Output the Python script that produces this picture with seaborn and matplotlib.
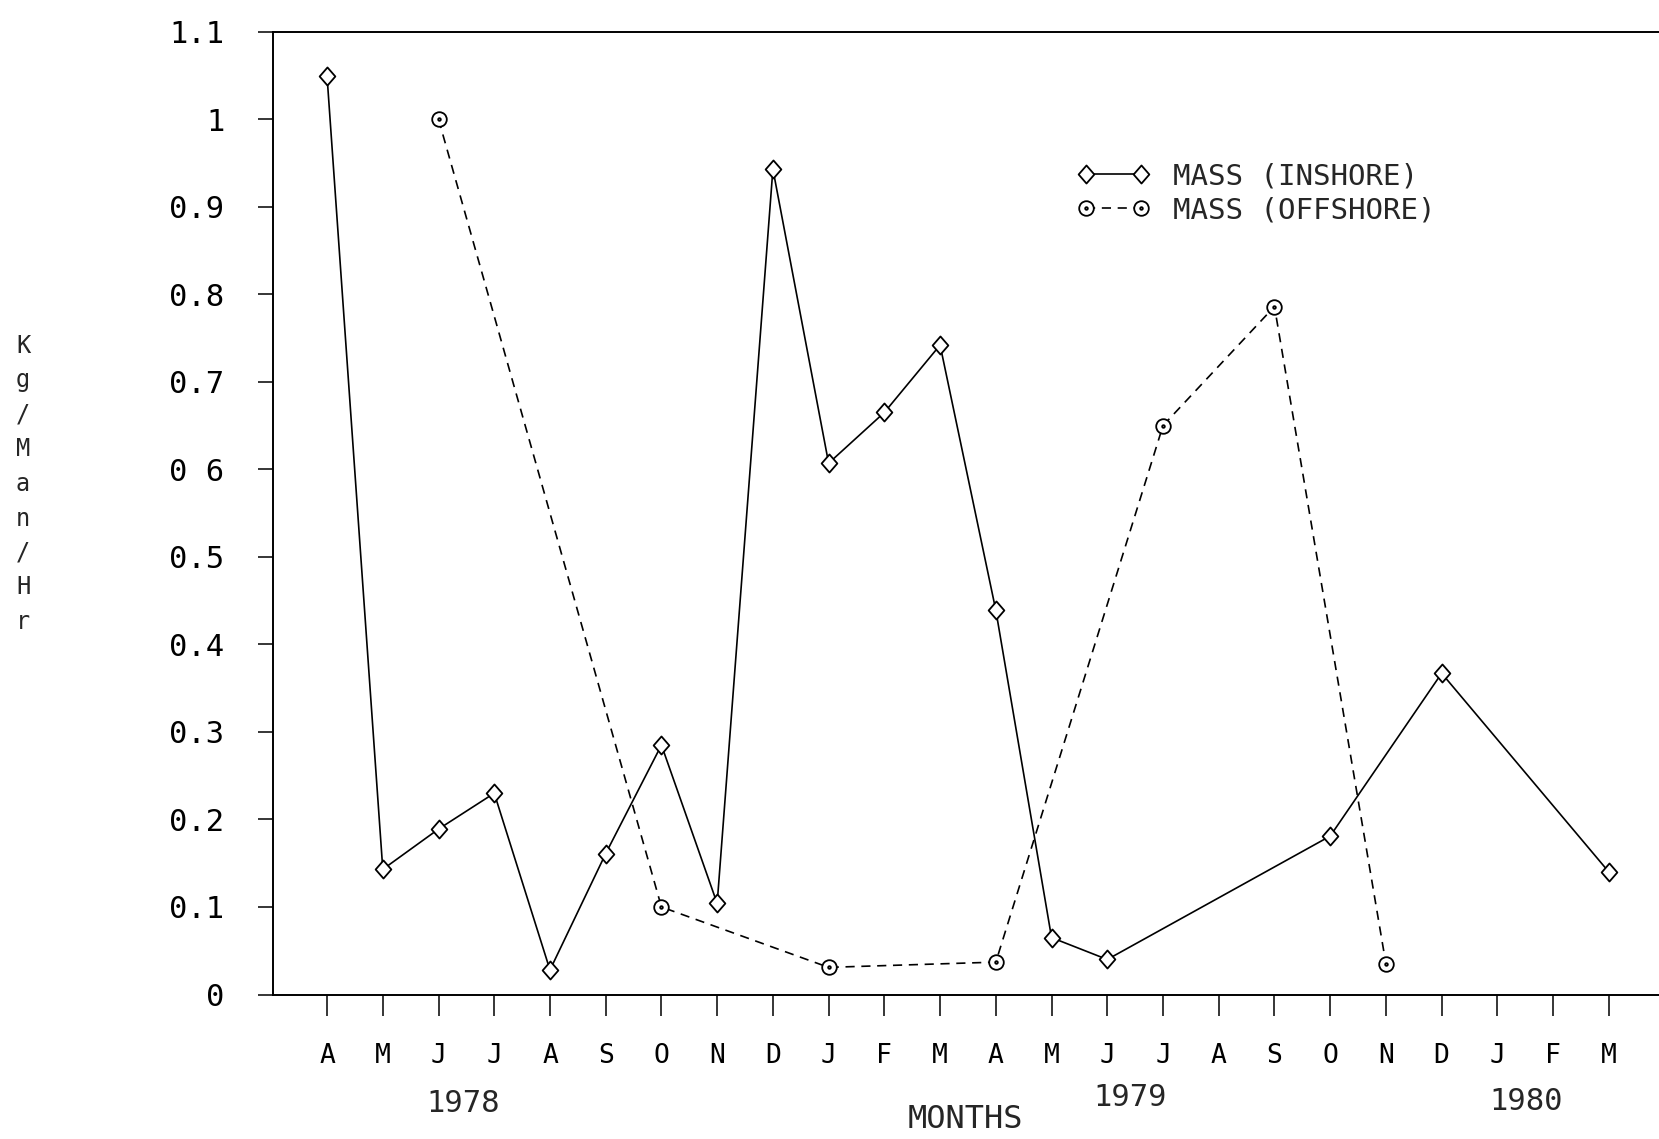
import numpy as np
import pandas as pd
import matplotlib
matplotlib.use("Agg")
import matplotlib.pyplot as plt
from matplotlib.path import Path
import seaborn as sns

# Monthly sampling, April 1978 .. March 1980
months = ["A", "M", "J", "J", "A", "S", "O", "N", "D",
          "J", "F", "M", "A", "M", "J", "J", "A", "S", "O", "N", "D",
          "J", "F", "M"]

# Catch rate (Kg/Man/Hr); None = no sample that month
inshore = [1.049, 0.143, 0.189, 0.230, 0.028, 0.161, 0.285, 0.104, 0.943,
           0.607, 0.665, 0.742, 0.439, 0.065, 0.040, None, None, None, 0.181, None, 0.367,
           None, None, 0.140]
offshore = [None, None, 1.000, None, None, None, 0.100, None, None,
            0.031, None, None, 0.037, None, None, 0.650, None, 0.786, None, 0.035, None,
            None, None, None]

y_ticks = [0, 0.1, 0.2, 0.3, 0.4, 0.5, 0.6, 0.7, 0.8, 0.9, 1.0, 1.1]
y_tick_labels = ["0", "0.1", "0.2", "0.3", "0.4", "0.5", "0 6",
                 "0.7", "0.8", "0.9", "1", "1.1"]
years = ["1978", "1979", "1980"]
y_label = "Kg/Man/Hr"

lab_in = "MASS (INSHORE)"
lab_off = "MASS (OFFSHORE)"

rows = []
for i, v in enumerate(inshore):
    if v is not None:
        rows.append({"month": i, "rate": v, "series": lab_in})
for i, v in enumerate(offshore):
    if v is not None:
        rows.append({"month": i, "rate": v, "series": lab_off})
df = pd.DataFrame(rows)

sns.set_theme(style="white")
plt.rcParams["font.family"] = ["DejaVu Sans Mono", "DejaVu Sans"]

W, H = 1659, 1139
fig = plt.figure(figsize=(W / 100, H / 100), dpi=100)
ax_left, ax_bottom, ax_top = 273 / W, 1 - 994.5 / H, 1 - 31.7 / H
ax = fig.add_axes([ax_left, ax_bottom, 1 - ax_left, ax_top - ax_bottom])

# slightly tall diamond
diamond = Path([(0, 1), (0.87, 0), (0, -1), (-0.87, 0), (0, 1)],
               [Path.MOVETO, Path.LINETO, Path.LINETO, Path.LINETO, Path.CLOSEPOLY])
# circle with a small dot inside
dot_circle = Path.make_compound_path(Path.circle((0, 0), 1.0),
                                     Path.circle((0, 0), 0.18))

sns.lineplot(data=df, x="month", y="rate", hue="series", style="series",
             palette={lab_in: "black", lab_off: "black"},
             markers={lab_in: diamond, lab_off: dot_circle},
             dashes={lab_in: "", lab_off: (5.5, 4)},
             linewidth=1.2, markersize=11, markerfacecolor="white",
             markeredgecolor="black", markeredgewidth=1.3,
             ax=ax, legend=True)

# diamonds a little larger than the circles
for ln in ax.get_lines():
    if ln.get_linestyle() == "-":
        ln.set_markersize(13)
    else:
        ln.set_markersize(10.5)

ax.set_xlim(-0.97, 23.9)
ax.set_ylim(0, 1.1)
ax.set_xticks(range(len(months)))
ax.set_xticklabels(months, fontsize=19)
ax.set_yticks(y_ticks)
ax.set_yticklabels(y_tick_labels, fontsize=22)
ax.set_xlabel("")
ax.set_ylabel("")
ax.tick_params(axis="x", direction="out", length=15, width=1.1, pad=20,
               bottom=True, colors="black")
ax.tick_params(axis="y", direction="out", length=11, width=1.1, pad=24,
               left=True, colors="black")
for side in ["left", "top", "bottom"]:
    ax.spines[side].set_visible(True)
    ax.spines[side].set_color("black")
    ax.spines[side].set_linewidth(1.4)
ax.spines["right"].set_visible(False)
ax.grid(False)

leg = ax.legend(loc="upper left", bbox_to_anchor=(1077 / W, 1 - 162 / H),
                bbox_transform=fig.transFigure, frameon=False, fontsize=21,
                handlelength=2.5, handletextpad=0.8, labelspacing=0.22,
                borderpad=0, borderaxespad=0, numpoints=2)
for h in leg.legend_handles:
    h.set_markersize(13 if h.get_linestyle() == "-" else 10.5)

# Year labels and axis titles
fig.text(463 / W, 1 - 1103 / H, years[0], fontsize=22, ha="center", va="center")
fig.text(1130 / W, 1 - 1097 / H, years[1], fontsize=22, ha="center", va="center")
fig.text(1526 / W, 1 - 1101 / H, years[2], fontsize=22, ha="center", va="center")
fig.text(965 / W, 1 - 1119 / H, "MONTHS", fontsize=23, ha="center", va="center")

for k, ch in enumerate(y_label):
    fig.text(23 / W, 1 - (346 + 34.5 * k) / H, ch, fontsize=17,
             ha="center", va="center")

fig.savefig("out.png", dpi=100)
